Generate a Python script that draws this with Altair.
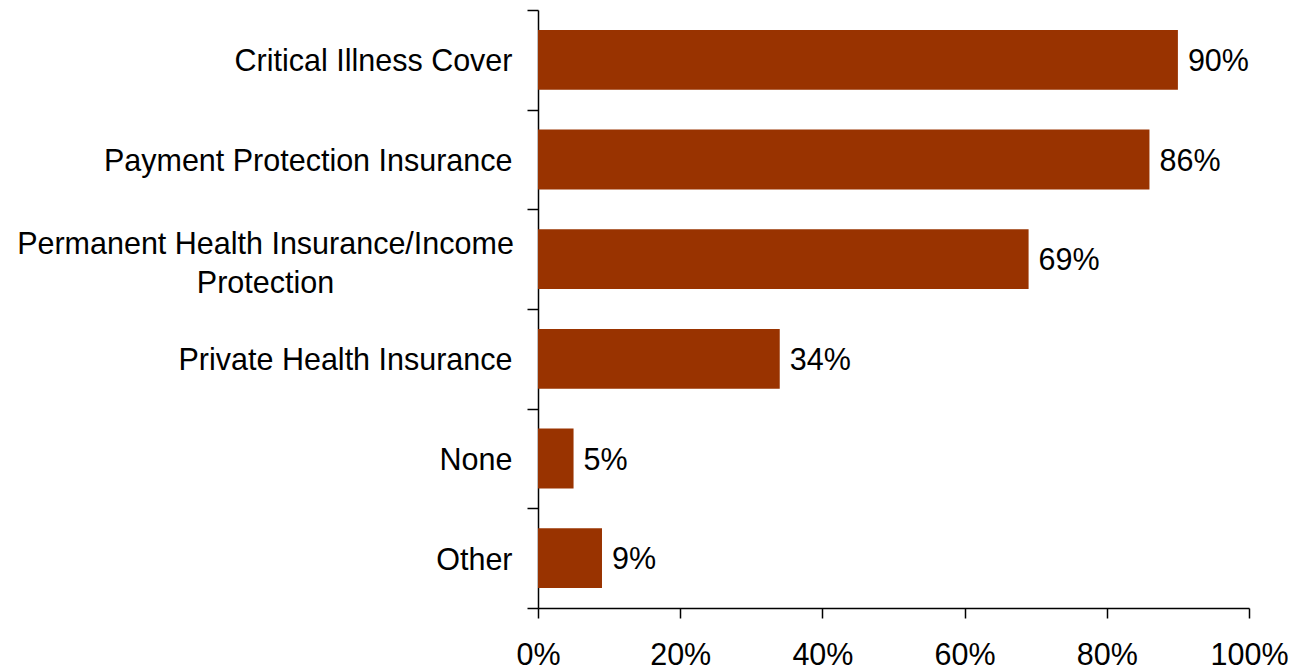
import altair as alt
import pandas as pd

categories = [
    "Critical Illness Cover",
    "Payment Protection Insurance",
    "Permanent Health Insurance/Income Protection",
    "Private Health Insurance",
    "None",
    "Other",
]
values = [0.90, 0.86, 0.69, 0.34, 0.05, 0.09]
x_ticks = [0, 0.2, 0.4, 0.6, 0.8, 1.0]

df = pd.DataFrame({"cat": categories, "value": values})

FONT = "Liberation Sans"
FS = 30.5
LONG = "Permanent Health Insurance/Income Protection"
IS_LONG = f"datum.value == '{LONG}'"

y_enc = alt.Y(
    "cat:N",
    sort=categories,
    title=None,
    scale=alt.Scale(paddingInner=0, paddingOuter=0),
    axis=alt.Axis(
        tickBand="extent",
        tickSize=11,
        tickColor="black",
        tickWidth=1.5,
        domainColor="black",
        domainWidth=1.5,
        labelFont=FONT,
        labelFontSize=FS,
        labelColor="black",
        labelLineHeight=39,
        labelLimit=0,
        labelAlign={"condition": {"test": IS_LONG, "value": "center"}, "value": "right"},
        labelPadding={"condition": {"test": IS_LONG, "value": 262}, "value": 15},
        labelOffset={"condition": {"test": IS_LONG, "value": -15}, "value": 2},
        labelExpr=f"{IS_LONG} ? ['Permanent Health Insurance/Income', 'Protection'] : datum.value",
    ),
)

x_enc = alt.X(
    "value:Q",
    title=None,
    scale=alt.Scale(domain=[0, 1], nice=False),
    axis=alt.Axis(
        values=x_ticks,
        format=".0%",
        grid=False,
        tickSize=10,
        tickColor="black",
        tickWidth=1.5,
        domainColor="black",
        domainWidth=1.5,
        labelFont=FONT,
        labelFontSize=FS,
        labelColor="black",
        labelPadding=22,
        labelFlush=False,
    ),
)

bars = alt.Chart(df).mark_bar(color="#993300", height=alt.RelativeBandSize(0.6)).encode(x=x_enc, y=y_enc)

labels = alt.Chart(df).mark_text(
    align="left", baseline="middle", dx=10, dy=2, font=FONT, fontSize=FS, color="black"
).encode(
    x=alt.X("value:Q"),
    y=alt.Y("cat:N", sort=categories),
    text=alt.Text("value:Q", format=".0%"),
)

chart = (
    alt.layer(bars, labels)
    .properties(
        width=711,
        height=598,
        autosize=alt.AutoSizeParams(type="none"),
        padding={"left": 538, "top": 10, "right": 62, "bottom": 62},
        background="white",
    )
    .configure_view(stroke=None)
)

chart.save("out.html", embed_options={"renderer": "svg", "actions": False})
